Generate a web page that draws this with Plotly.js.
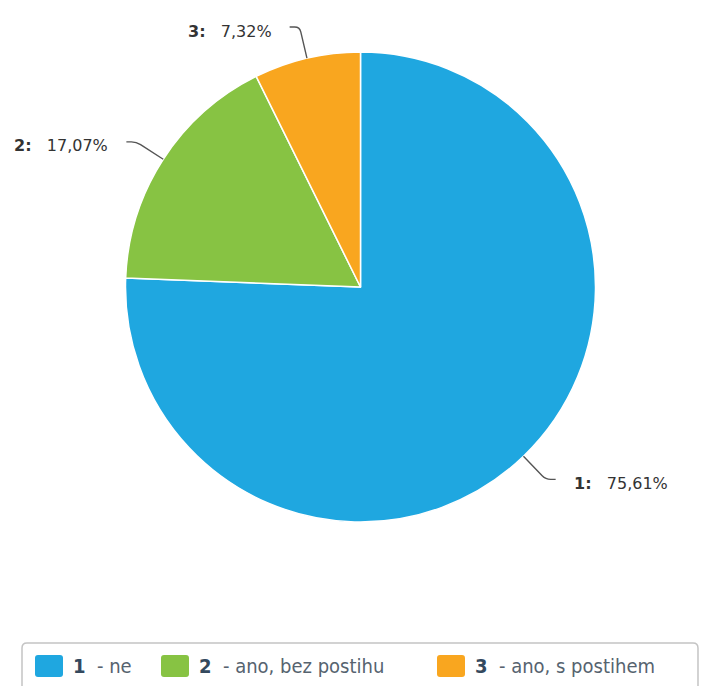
<!DOCTYPE html>
<html><head><meta charset="utf-8">
<script src="https://cdn.plot.ly/plotly-3.0.1.min.js"></script>
<style>html,body{margin:0;padding:0;background:#fff}</style>
</head><body><div id="chart" style="width:702px;height:686px"></div>
<script>
// ---- data ----
const categories = ['1', '2', '3'];
const descriptions = ['ne', 'ano, bez postihu', 'ano, s postihem'];
const values = [75.61, 17.07, 7.32];
const colors = ['#1fa7e0', '#87c343', '#f9a61f'];

// ---- layout helpers ----
const W = 702, H = 686;
const cx = 360.5, cy = 287, R = 235;
const px = x => x / W, py = y => 1 - y / H;
const fmt = v => v.toFixed(2).replace('.', ',') + '%';

const data = [{
  type: 'pie',
  values: values,
  labels: categories.map((c, i) => c + ' - ' + descriptions[i]),
  marker: {colors: colors, line: {color: '#ffffff', width: 1.5}},
  sort: false, direction: 'clockwise', rotation: 0,
  textinfo: 'none', hoverinfo: 'label+percent',
  domain: {x: [px(cx - R), px(cx + R)], y: [py(cy + R), py(cy - R)]},
  showlegend: false
}];

const shapes = [], annotations = [];
const total = values.reduce((a, b) => a + b, 0);
let cum = 0;
const P = (x, y) => px(x).toFixed(5) + ',' + py(y).toFixed(5);
values.forEach((v, i) => {
  const th = 2 * Math.PI * (cum + v / 2) / total; cum += v;
  const ux = Math.sin(th), uy = -Math.cos(th);
  const side = ux >= 0 ? 1 : -1;
  const p0 = [cx + R * ux, cy + R * uy];
  const p1 = [cx + (R + 32) * ux, cy + (R + 32) * uy];
  const pa = [p1[0] - 5 * ux, p1[1] - 5 * uy];
  const pb = [p1[0] + 5 * side, p1[1]];
  const p2 = [p1[0] + 10 * side, p1[1]];
  shapes.push({type: 'path', xref: 'paper', yref: 'paper',
    path: 'M' + P(p0[0], p0[1]) + ' L' + P(pa[0], pa[1]) + ' Q' + P(p1[0], p1[1]) + ' ' + P(pb[0], pb[1]) + ' L' + P(p2[0], p2[1]),
    line: {color: '#555555', width: 1.4}, fillcolor: 'rgba(0,0,0,0)'});
  annotations.push({xref: 'paper', yref: 'paper', showarrow: false,
    x: px(p2[0] + 16 * side), y: py(p1[1] + 4),
    xanchor: side > 0 ? 'left' : 'right', yanchor: 'middle',
    text: '<b>' + categories[i] + ':</b>&nbsp;&nbsp;&nbsp;' + fmt(v),
    font: {family: 'DejaVu Sans, sans-serif', size: 16, color: '#333333'}});
});

// ---- custom legend ----
const legFont = 'Liberation Sans Narrow, DejaVu Sans Condensed, Roboto, sans-serif';
shapes.push({type: 'path', xref: 'paper', yref: 'paper',
  path: 'M' + P(22, 700) + ' L' + P(22, 648) + ' Q' + P(22, 643) + ' ' + P(27, 643) +
        ' L' + P(693, 643) + ' Q' + P(698, 643) + ' ' + P(698, 648) + ' L' + P(698, 700),
  line: {color: '#c4c4c4', width: 1.5}, fillcolor: 'rgba(0,0,0,0)'});
const legX = [35, 161, 437];
const sqW = 28, sqH = 22, sqY = 655, rr = 3;
categories.forEach((c, i) => {
  const x0 = legX[i], x1 = x0 + sqW, y0 = sqY, y1 = sqY + sqH;
  shapes.push({type: 'path', xref: 'paper', yref: 'paper',
    path: 'M' + P(x0 + rr, y0) + ' L' + P(x1 - rr, y0) + ' Q' + P(x1, y0) + ' ' + P(x1, y0 + rr) +
          ' L' + P(x1, y1 - rr) + ' Q' + P(x1, y1) + ' ' + P(x1 - rr, y1) +
          ' L' + P(x0 + rr, y1) + ' Q' + P(x0, y1) + ' ' + P(x0, y1 - rr) +
          ' L' + P(x0, y0 + rr) + ' Q' + P(x0, y0) + ' ' + P(x0 + rr, y0) + ' Z',
    line: {width: 0}, fillcolor: colors[i]});
  annotations.push({xref: 'paper', yref: 'paper', showarrow: false,
    x: px(x1 + 8), y: py(sqY + sqH / 2), xanchor: 'left', yanchor: 'middle',
    text: '<span style="color:#34495e"><b>' + c + '</b></span>&nbsp;&nbsp;- ' + descriptions[i],
    font: {family: legFont, size: 20, color: '#56636f'}});
});

const layout = {
  width: W, height: H, margin: {l: 0, r: 0, t: 0, b: 0},
  paper_bgcolor: '#ffffff', showlegend: false,
  shapes: shapes, annotations: annotations
};
Plotly.newPlot('chart', data, layout, {displayModeBar: false, staticPlot: true});
</script></body></html>
